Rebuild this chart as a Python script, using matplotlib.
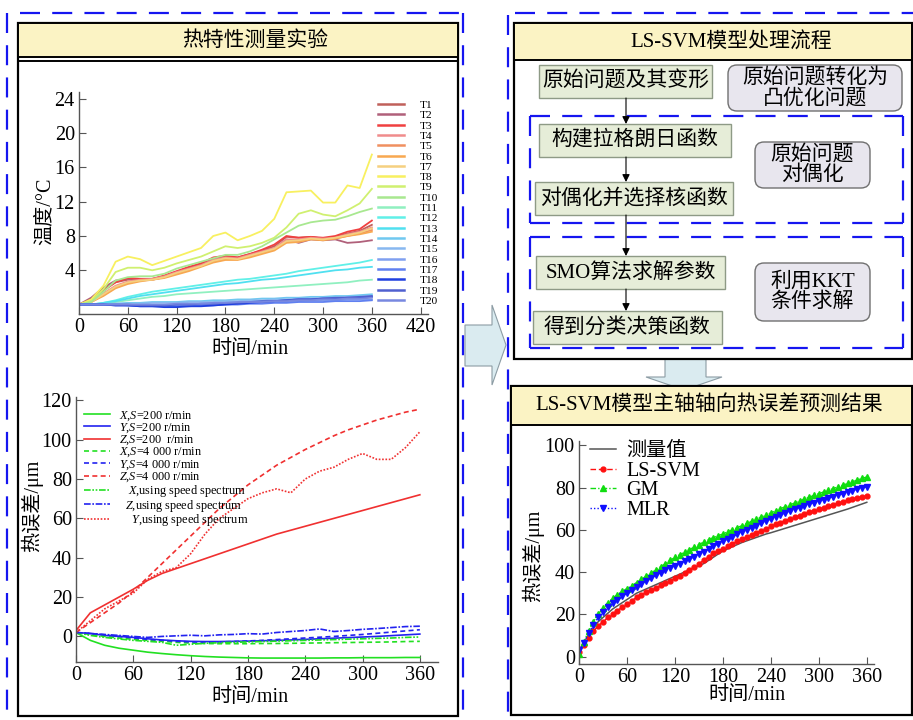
import matplotlib.pyplot as plt
import matplotlib.patches as mpatches
from matplotlib.lines import Line2D

plt.rcParams.update({
    'font.family': ['Liberation Serif', 'Noto Sans CJK SC'],
    'mathtext.fontset': 'custom',
    'mathtext.rm': 'Liberation Serif',
    'mathtext.it': 'Liberation Serif:italic',
    'axes.unicode_minus': False,
})

# ── Data: temperature rise of 20 sensors (°C) ────────────────────────────────
t_temp = list(range(0, 361, 15))
T1 = [0, 0.6, 1.8, 2.6, 2.9, 3.0, 3.0, 3.3, 3.8, 4.3, 4.8, 5.4, 5.6, 5.5, 5.9, 6.3, 6.8, 7.9, 7.8, 7.9, 7.7, 7.9, 8.3, 8.6, 9.3]
T2 = [0, 0.8, 2.0, 2.8, 3.0, 3.0, 2.9, 3.2, 3.7, 4.1, 4.6, 5.2, 5.4, 5.3, 5.7, 6.1, 6.5, 7.6, 7.2, 7.6, 7.5, 7.6, 7.2, 7.3, 7.5]
T3 = [0, 0.5, 1.6, 2.6, 3.1, 3.0, 3.0, 3.4, 3.9, 4.4, 4.8, 5.5, 5.7, 5.5, 5.9, 6.4, 7.0, 8.0, 7.8, 7.9, 7.8, 8.0, 8.5, 8.8, 9.8]
T4 = [0, 0.4, 1.3, 2.2, 2.7, 2.9, 3.0, 3.3, 3.8, 4.2, 4.6, 5.2, 5.5, 5.4, 5.8, 6.2, 6.6, 7.6, 7.6, 7.8, 7.7, 7.8, 8.2, 8.5, 9.0]
T5 = [0, 0.3, 1.1, 2.0, 2.5, 2.8, 2.9, 3.2, 3.6, 4.0, 4.5, 5.0, 5.3, 5.3, 5.6, 6.0, 6.4, 7.3, 7.4, 7.7, 7.6, 7.7, 8.0, 8.3, 8.7]
T6 = [0, 0.3, 1.0, 1.9, 2.4, 2.7, 2.9, 3.1, 3.5, 3.9, 4.4, 4.9, 5.2, 5.2, 5.5, 5.9, 6.3, 7.2, 7.3, 7.6, 7.5, 7.7, 8.0, 8.2, 8.5]
T7 = [0, 0.3, 1.2, 2.1, 2.6, 2.8, 2.9, 3.2, 3.7, 4.1, 4.5, 5.1, 5.4, 5.3, 5.7, 6.1, 6.5, 7.4, 7.5, 7.7, 7.6, 7.8, 8.1, 8.4, 8.9]
T8 = [0, 0.6, 2.2, 5.0, 5.6, 5.3, 4.6, 5.1, 5.6, 6.1, 6.6, 8.0, 8.4, 7.5, 8.0, 8.6, 10.0, 13.1, 13.2, 13.3, 11.9, 11.9, 13.9, 13.6, 17.5]
T9 = [0, 0.4, 1.8, 3.8, 4.3, 4.3, 4.0, 4.3, 4.8, 5.2, 5.6, 6.2, 6.8, 6.6, 6.8, 7.2, 7.8, 9.0, 10.6, 11.0, 10.5, 10.3, 11.0, 11.8, 13.5]
T10 = [0, 0.3, 1.5, 2.8, 3.2, 3.3, 3.3, 3.6, 4.2, 4.6, 5.0, 5.4, 5.8, 5.8, 6.2, 6.8, 7.6, 8.4, 9.2, 9.6, 9.8, 9.9, 10.3, 10.8, 11.2]
T11 = [0, 0, 0.1, 0.3, 0.5, 0.7, 0.9, 1.0, 1.2, 1.3, 1.4, 1.5, 1.6, 1.7, 1.8, 1.9, 2.0, 2.1, 2.2, 2.3, 2.4, 2.5, 2.6, 2.8, 2.9]
T12 = [0, 0, 0.2, 0.5, 0.9, 1.2, 1.5, 1.7, 1.9, 2.1, 2.3, 2.5, 2.7, 2.9, 3.0, 3.2, 3.4, 3.6, 3.9, 4.1, 4.3, 4.5, 4.7, 4.9, 5.2]
T13 = [0, 0, 0.2, 0.4, 0.7, 1.0, 1.2, 1.4, 1.6, 1.8, 2.0, 2.2, 2.4, 2.5, 2.7, 2.9, 3.0, 3.2, 3.4, 3.6, 3.8, 4.0, 4.1, 4.3, 4.4]
T14 = [0, 0, 0.1, 0.1, 0.2, 0.2, 0.3, 0.3, 0.3, 0.4, 0.4, 0.5, 0.5, 0.6, 0.6, 0.7, 0.7, 0.8, 0.8, 0.9, 0.9, 1.0, 1.0, 1.1, 1.2]
T15 = [0, 0, 0, 0.1, 0.1, 0.1, 0.2, 0.2, 0.2, 0.3, 0.3, 0.3, 0.4, 0.4, 0.5, 0.5, 0.6, 0.6, 0.7, 0.7, 0.8, 0.8, 0.9, 0.9, 1.0]
T16 = [0, 0, 0, 0, -0.1, -0.1, -0.1, -0.1, -0.1, 0, 0, 0.1, 0.1, 0.2, 0.2, 0.3, 0.3, 0.4, 0.4, 0.5, 0.5, 0.5, 0.6, 0.6, 0.6]
T17 = [0, 0, 0, -0.1, -0.1, -0.2, -0.2, -0.2, -0.2, -0.2, -0.1, -0.1, 0, 0, 0.1, 0.1, 0.2, 0.2, 0.3, 0.3, 0.3, 0.4, 0.4, 0.4, 0.5]
T18 = [0, 0, 0, -0.1, -0.1, -0.2, -0.2, -0.3, -0.3, -0.2, -0.2, -0.1, 0, 0.1, 0.2, 0.3, 0.4, 0.5, 0.6, 0.6, 0.7, 0.7, 0.8, 0.8, 0.9]
T19 = [0, 0, 0, 0, 0, -0.1, -0.1, -0.1, 0, 0, 0.1, 0.1, 0.2, 0.2, 0.3, 0.4, 0.4, 0.5, 0.6, 0.6, 0.7, 0.8, 0.8, 0.9, 1.0]
T20 = [0, 0, 0, 0, 0, 0, 0, 0, 0.1, 0.1, 0.1, 0.2, 0.2, 0.3, 0.3, 0.3, 0.4, 0.4, 0.5, 0.5, 0.6, 0.6, 0.7, 0.7, 0.8]
temp_names = [f'T{i}' for i in range(1, 21)]
temp_colors = ['#C0605A', '#B0607A', '#F04040', '#F08C8C', '#F09060', '#F8A850', '#F5D080',
               '#F8F060', '#D0F070', '#A8E890', '#90F0C0', '#60F0E8', '#50E0F0', '#70C8F0',
               '#88B8F0', '#80A0F0', '#6080F0', '#2040E0', '#5060D0', '#7888E0']

# ── Data: thermal error, measured under two speeds and speed spectrum (μm) ──
t_err = list(range(0, 361, 15))
X200 = [2, -2, -4.5, -6, -7, -8, -8.7, -9.3, -9.8, -10.2, -10.5, -10.7, -10.9, -11, -11, -11, -11, -11, -10.9, -10.9, -10.8, -10.8, -10.8, -10.7, -10.7]
Y200 = [2, 1.5, 0.5, 0, -0.5, -1.2, -1.8, -2.2, -2.5, -2.6, -2.6, -2.5, -2.4, -2.2, -2, -1.8, -1.5, -1.2, -0.9, -0.6, -0.3, 0, 0.4, 0.8, 1.2]
Z200 = [3, 12, 16, 20, 24, 28.5, 32, 34.5, 37, 39.5, 42, 44.5, 47, 49.5, 52, 54, 56, 58, 60, 62, 64, 66, 68, 70, 72]
X4000 = [2, 1, 0, -0.8, -1.5, -2, -2.5, -3, -3.4, -3.6, -3.7, -3.7, -3.7, -3.6, -3.6, -3.5, -3.4, -3.3, -3.2, -3.1, -3, -2.9, -2.8, -2.6, -2.5]
Y4000 = [2, 1.5, 0.8, 0, -0.8, -1.5, -2, -2.5, -2.8, -2.9, -2.8, -2.6, -2.3, -2, -1.6, -1.2, -0.8, -0.4, 0, 0.5, 1, 1.6, 2.2, 2.8, 3.4]
Z4000 = [2, 7, 12, 17, 23, 30, 37, 44, 51, 58, 65, 71, 77, 82, 87, 91, 95, 98.5, 102, 105, 107.5, 110, 112, 114, 115.5]
Xspec = [2, 0.5, -0.5, -1.3, -2, -2.5, -3, -4.5, -4, -3.5, -3.2, -3, -2.8, -2.6, -2.4, -2.2, -2, -1.8, -1.6, -1.4, -1.2, -1, -0.8, -0.5, -0.3]
Zspec = [2, 1.5, 1, 0.5, 0, -0.5, 0, 0.3, 0.6, 0.3, 0.8, 1, 1.4, 1.2, 2, 2.5, 3, 3.8, 2.5, 3, 3.6, 4, 4.5, 5, 5.2]
Yspec = [2, 8, 14, 18, 22, 29, 33, 35, 42, 52, 60, 65, 70, 73, 75, 73, 80, 84, 86, 90, 93, 90, 90, 96, 104]

# ── Data: LS-SVM prediction result (μm), every 6 min ─────────────────────────
t_pred = list(range(0, 361, 6))
measured = [2.5, 6.5, 10.5, 13.5, 16.5, 18.5, 20.5, 22.5, 24.0, 25.5,
            27.0, 28.5, 30.0, 31.0, 32.0, 33.0, 34.0, 35.0, 36.0, 37.0,
            38.0, 39.0, 40.0, 41.0, 42.0, 43.0, 44.0, 45.5, 47.0, 48.5,
            50.0, 51.0, 52.0, 53.0, 54.0, 54.8, 55.6, 56.4, 57.2, 58.0,
            58.6, 59.3, 60.0, 60.7, 61.4, 62.1, 62.8, 63.5, 64.2, 64.9,
            65.6, 66.3, 67.0, 67.7, 68.4, 69.1, 69.8, 70.6, 71.4, 72.2,
            73.0]
lssvm = [2.0, 5.5, 9.0, 12.0, 14.5, 16.5, 18.5, 20.0, 21.8, 23.4,
         25.0, 26.5, 28.0, 29.2, 30.4, 31.5, 32.6, 33.7, 34.8, 35.9,
         37.0, 38.2, 39.5, 41.0, 42.5, 44.0, 45.6, 47.2, 48.8, 50.0,
         51.0, 52.2, 53.4, 54.5, 55.6, 56.6, 57.6, 58.6, 59.6, 60.6,
         61.6, 62.5, 63.4, 64.3, 65.1, 65.9, 66.7, 67.5, 68.3, 69.0,
         69.7, 70.4, 71.1, 71.8, 72.5, 73.2, 73.9, 74.5, 75.1, 75.6,
         76.0]
gm = [1.0, 7.0, 12.0, 16.5, 20.0, 23.0, 25.5, 27.5, 29.3, 30.8,
      32.2, 33.6, 35.0, 36.5, 38.0, 39.5, 41.0, 42.5, 44.0, 45.5,
      47.0, 48.2, 49.4, 50.6, 51.8, 53.0, 54.2, 55.3, 56.3, 57.2,
      58.0, 59.0, 60.0, 61.0, 62.0, 63.0, 64.0, 65.0, 66.0, 67.0,
      68.0, 69.0, 70.0, 70.9, 71.8, 72.7, 73.6, 74.5, 75.4, 76.3,
      77.1, 77.9, 78.7, 79.5, 80.3, 81.1, 81.9, 82.7, 83.5, 84.3,
      85.0]
mlr = [3.0, 6.5, 11.0, 15.0, 18.5, 21.0, 23.5, 25.5, 27.0, 28.6,
       30.0, 31.4, 32.8, 34.2, 35.6, 37.0, 38.4, 39.6, 40.8, 41.9,
       43.0, 44.0, 45.0, 46.0, 47.2, 48.4, 49.6, 50.9, 52.1, 53.3,
       54.5, 55.6, 56.7, 57.8, 58.9, 60.0, 61.0, 62.0, 63.0, 64.0,
       65.0, 66.0, 66.9, 67.8, 68.7, 69.6, 70.5, 71.3, 72.1, 72.9,
       73.6, 74.3, 75.0, 75.7, 76.4, 77.1, 77.8, 78.5, 79.2, 79.8,
       80.3]

# ── Canvas (pixel coordinates, y downwards) ──────────────────────────────────
W, H = 913, 720
fig = plt.figure(figsize=(W / 100, H / 100), dpi=100)
bg = fig.add_axes([0, 0, 1, 1])
bg.set_xlim(0, W)
bg.set_ylim(H, 0)
bg.axis('off')

BLUE = '#1515F0'
TITLE_BG = '#FBF3C4'


def px_axes(l, t, r, b):
    ax = fig.add_axes([l / W, 1 - b / H, (r - l) / W, (b - t) / H])
    ax.patch.set_alpha(0)
    return ax


def dash(x0, y0, x1, y1):
    bg.plot([x0, x1], [y0, y1], color=BLUE, lw=1.6, ls=(0, (9, 5.5)),
            solid_capstyle='butt', zorder=3)


def rect(x0, y0, x1, y1, fc, ec='black', lw=1.6, z=1):
    bg.add_patch(mpatches.Rectangle((x0, y0), x1 - x0, y1 - y0, fc=fc, ec=ec, lw=lw, zorder=z))


def box(x0, y0, x1, y1, text, rounded=False):
    if rounded:
        bg.add_patch(mpatches.FancyBboxPatch((x0, y0), x1 - x0, y1 - y0,
                     boxstyle='round,pad=0,rounding_size=9', fc='#E8E6EE', ec='#707070',
                     lw=1.0, zorder=2))
    else:
        bg.add_patch(mpatches.Rectangle((x0, y0), x1 - x0, y1 - y0, fc='#E6EDD8',
                     ec='#8E9A86', lw=1.0, zorder=2))
    bg.text((x0 + x1) / 2, (y0 + y1) / 2, text, ha='center', va='center', fontsize=15,
            linespacing=1.05, zorder=4)


def arrow(x, y0, y1):
    bg.annotate('', xy=(x, y1), xytext=(x, y0), zorder=4,
                arrowprops=dict(arrowstyle='-|>', color='black', lw=0.8,
                                mutation_scale=11, shrinkA=0, shrinkB=0))


# block arrows (drawn first, panels and frames on top)
bg.add_patch(mpatches.Polygon([(465, 325), (492, 325), (492, 305), (506, 345), (492, 385),
                               (492, 366), (465, 366)], closed=True, fc='#DAEBF0',
                              ec='#8C9CA4', lw=0.8, zorder=0.5))
bg.add_patch(mpatches.Polygon([(665, 359), (706, 359), (706, 377), (722, 377), (684, 390),
                               (646, 377), (665, 377)], closed=True, fc='#DAEBF0',
                              ec='#8C9CA4', lw=0.8, zorder=0.5))

# left panel
rect(18, 23, 458, 716, 'white')
rect(18, 23, 458, 57, TITLE_BG, lw=1.4)
bg.plot([18, 458], [61, 61], color='black', lw=1.4, zorder=2)
bg.text(255, 41, '热特性测量实验', ha='center', va='center', fontsize=15, zorder=4)

# right top panel: flow chart
rect(514, 23, 912, 359, 'white')
rect(514, 23, 912, 60, TITLE_BG, lw=1.4)
bg.text(731, 43, 'LS-SVM模型处理流程', ha='center', va='center', fontsize=15, zorder=4)
box(539, 65, 712, 98, '原始问题及其变形')
box(728, 65, 902, 111, '原始问题转化为\n凸优化问题', rounded=True)
box(539, 124, 731, 157, '构建拉格朗日函数')
box(535, 182, 733, 215, '对偶化并选择核函数')
box(755, 142, 870, 188, '原始问题\n对偶化', rounded=True)
box(536, 256, 725, 289, 'SMO算法求解参数')
box(533, 311, 722, 344, '得到分类决策函数')
box(755, 263, 870, 321, '利用KKT\n条件求解', rounded=True)
arrow(626, 98, 124)
arrow(626, 157, 182)
arrow(626, 215, 256)
arrow(626, 289, 311)
for y0, y1 in [(116, 223), (237, 348)]:
    dash(530, y0, 903, y0)
    dash(530, y1, 903, y1)
    dash(530, y0, 530, y1)
    dash(903, y0, 903, y1)

# right bottom panel
rect(511, 386, 912, 715, 'white')
rect(511, 386, 912, 425, TITLE_BG, lw=1.4)
bg.text(709, 405, 'LS-SVM模型主轴轴向热误差预测结果', ha='center', va='center', fontsize=15, zorder=4)

# outer dashed frames
dash(7, 13, 7, 720)
dash(20, 13, 460, 13)
dash(463, 13, 463, 720)
dash(508, 15, 508, 720)
dash(515, 13, 913, 13)


def style(ax):
    for s in ['top', 'right']:
        ax.spines[s].set_visible(False)
    for s in ['left', 'bottom']:
        ax.spines[s].set_color('#555555')
        ax.spines[s].set_linewidth(1.0)
    ax.tick_params(direction='in', length=5, width=0.8, labelsize=14.5, pad=3,
                   colors='#555555', labelcolor='black')


def place_labels(ax, xlab, ylab, xtext, ytext):
    pos = ax.get_position()
    l, r = pos.x0 * W, pos.x1 * W
    t, b = (1 - pos.y1) * H, (1 - pos.y0) * H
    ax.set_xlabel(xtext, fontsize=14.5, va='center')
    ax.set_ylabel(ytext, fontsize=14.5, va='center')
    ax.xaxis.set_label_coords((xlab[0] - l) / (r - l), (b - xlab[1]) / (b - t))
    ax.yaxis.set_label_coords((ylab[0] - l) / (r - l), (b - ylab[1]) / (b - t))


# ── Chart 1: temperature ─────────────────────────────────────────────────────
ax1 = px_axes(79, 92, 428, 314)
temps = [T1, T2, T3, T4, T5, T6, T7, T8, T9, T10, T11, T12, T13, T14, T15, T16, T17, T18, T19, T20]
for vals, col in zip(temps, temp_colors):
    ax1.plot(t_temp, vals, color=col, lw=1.3)
ax1.set_xlim(0, 429)
ax1.set_ylim(-1.1, 24.8)
ax1.set_xticks(range(0, 421, 60))
ax1.set_yticks(range(4, 25, 4))
style(ax1)
place_labels(ax1, (250, 350), (45, 211), '时间/min', '温度/°C')
handles = [Line2D([], [], color=c, lw=1.8) for c in temp_colors]
ax1.legend(handles, temp_names, loc='upper left', bbox_to_anchor=(378, 100),
           bbox_transform=bg.transData, frameon=False, fontsize=8.2, labelspacing=0.03,
           handlelength=2.25, handletextpad=1.4, borderpad=0, borderaxespad=0)

# ── Chart 2: thermal error ───────────────────────────────────────────────────
ax2 = px_axes(76, 397, 438, 662)
GREEN, BLU, RED = '#22E022', '#2222F0', '#F03030'
series2 = [
    (X200, GREEN, '-', r'$X$,$S$=200 r/min'),
    (Y200, BLU, '-', r'$Y$,$S$=200 r/min'),
    (Z200, RED, '-', r'$Z$,$S$=200  r/min'),
    (X4000, GREEN, (0, (3, 2)), r'$X$,$S$=4 000 r/min'),
    (Y4000, BLU, (0, (3, 2)), r'$Y$,$S$=4 000 r/min'),
    (Z4000, RED, (0, (3, 2)), r'$Z$,$S$=4 000 r/min'),
    (Xspec, GREEN, (0, (4, 1, 1, 1, 1, 1)), r'   $X$,using speed spectrum'),
    (Zspec, BLU, (0, (4, 1, 1, 1)), r'  $Z$,using speed spectrum'),
    (Yspec, RED, (0, (1, 1)), r'    $Y$,using speed spectrum'),
]
for vals, col, ls, lab in series2:
    ax2.plot(t_err, vals, color=col, ls=ls, lw=1.2, label=lab)
ax2.set_xlim(0, 379)
ax2.set_ylim(-13, 121.7)
ax2.set_xticks(range(0, 361, 60))
ax2.set_yticks(range(0, 121, 20))
style(ax2)
place_labels(ax2, (250, 698), (32, 506), '时间/min', '热误差/μm')
ax2.legend(loc='upper left', bbox_to_anchor=(84, 409), bbox_transform=bg.transData,
           frameon=False, fontsize=8.8, labelspacing=-0.1, handlelength=2.1,
           handletextpad=0.8, borderpad=0, borderaxespad=0)

# ── Chart 3: prediction ──────────────────────────────────────────────────────
ax3 = px_axes(579, 441, 874, 664)
ax3.plot(t_pred, measured, color='#555555', lw=1.1, label='测量值')
ax3.plot(t_pred, lssvm, color='#FF1010', ls=(0, (4, 2)), lw=1.0, marker='o', ms=3.5,
         label='LS-SVM')
ax3.plot(t_pred, gm, color='#10DD10', ls=(0, (4, 1.5, 1, 1.5)), lw=1.0, marker='^', ms=4,
         label='GM')
ax3.plot(t_pred, mlr, color='#1010FF', ls=(0, (1, 1.5)), lw=1.0, marker='v', ms=4,
         label='MLR')
ax3.set_xlim(0, 369)
ax3.set_ylim(-3.5, 102)
ax3.set_xticks(range(0, 361, 60))
ax3.set_yticks(range(0, 101, 20))
style(ax3)
place_labels(ax3, (747, 695), (533, 556), '时间/min', '热误差/μm')
ax3.legend(loc='upper left', bbox_to_anchor=(590, 442), bbox_transform=bg.transData,
           frameon=False, fontsize=14.5, labelspacing=0.02, handlelength=1.3,
           handletextpad=0.5, borderpad=0, borderaxespad=0, numpoints=1)

fig.savefig('out.png', dpi=100)
